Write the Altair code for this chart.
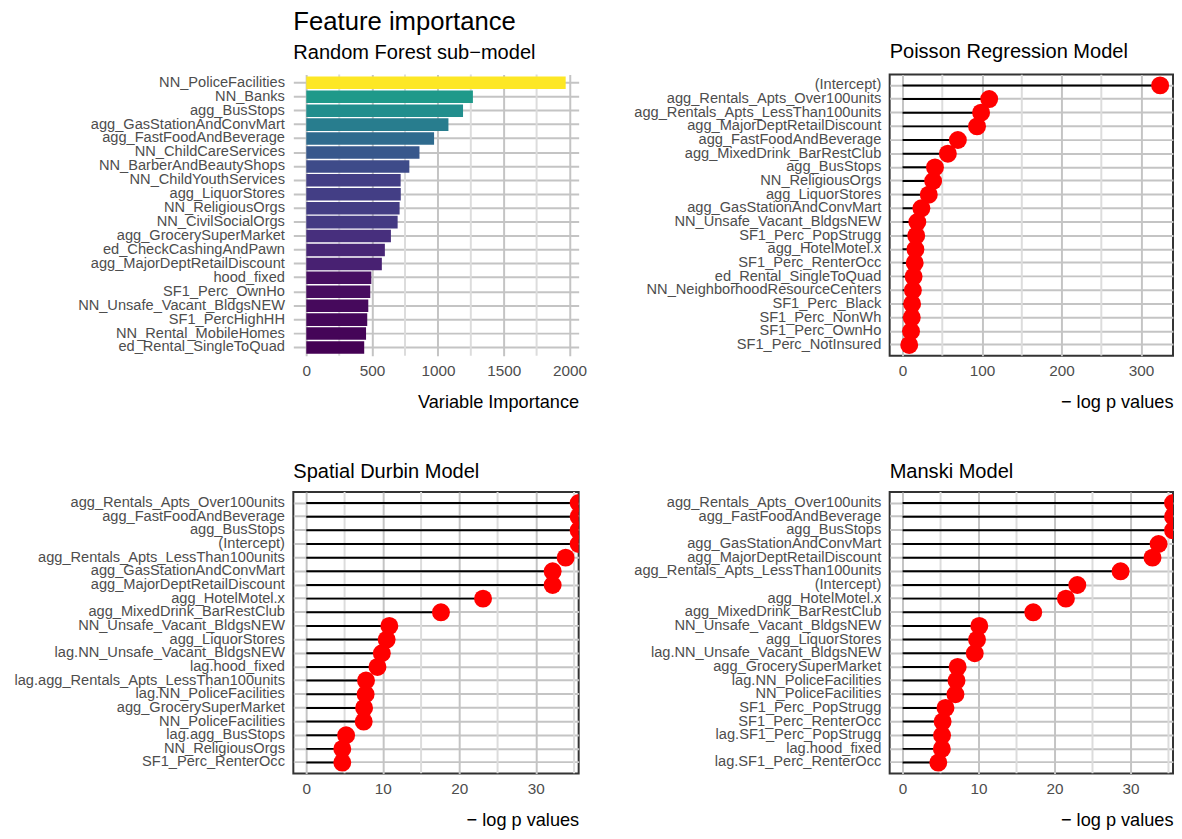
import altair as alt
import pandas as pd

FONT = "Liberation Sans"
LABEL_COLOR = "#4d4d4d"
MAJOR_GRID = "#c4c4c4"
MINOR_GRID = "#dcdcdc"

# ---------------- data ----------------
rf_features = [
    "NN_PoliceFacilities", "NN_Banks", "agg_BusStops", "agg_GasStationAndConvMart",
    "agg_FastFoodAndBeverage", "NN_ChildCareServices", "NN_BarberAndBeautyShops",
    "NN_ChildYouthServices", "agg_LiquorStores", "NN_ReligiousOrgs", "NN_CivilSocialOrgs",
    "agg_GrocerySuperMarket", "ed_CheckCashingAndPawn", "agg_MajorDeptRetailDiscount",
    "hood_fixed", "SF1_Perc_OwnHo", "NN_Unsafe_Vacant_BldgsNEW", "SF1_PercHighHH",
    "NN_Rental_MobileHomes", "ed_Rental_SingleToQuad",
]
rf_importance = [1971, 1266, 1191, 1080, 971, 860, 783, 717, 718, 709, 694,
                 643, 597, 574, 494, 486, 471, 463, 454, 440]

pois_features = [
    "(Intercept)", "agg_Rentals_Apts_Over100units", "agg_Rentals_Apts_LessThan100units",
    "agg_MajorDeptRetailDiscount", "agg_FastFoodAndBeverage", "agg_MixedDrink_BarRestClub",
    "agg_BusStops", "NN_ReligiousOrgs", "agg_LiquorStores", "agg_GasStationAndConvMart",
    "NN_Unsafe_Vacant_BldgsNEW", "SF1_Perc_PopStrugg", "agg_HotelMotel.x",
    "SF1_Perc_RenterOcc", "ed_Rental_SingleToQuad", "NN_NeighborhoodResourceCenters",
    "SF1_Perc_Black", "SF1_Perc_NonWh", "SF1_Perc_OwnHo", "SF1_Perc_NotInsured",
]
pois_values = [324, 109, 98.8, 93.7, 69.6, 57, 40.8, 38.5, 33, 23.7,
               18.6, 17.2, 16.2, 15.3, 13.9, 13, 12, 11.6, 10.7, 8.4]

sdm_features = [
    "agg_Rentals_Apts_Over100units", "agg_FastFoodAndBeverage", "agg_BusStops",
    "(Intercept)", "agg_Rentals_Apts_LessThan100units", "agg_GasStationAndConvMart",
    "agg_MajorDeptRetailDiscount", "agg_HotelMotel.x", "agg_MixedDrink_BarRestClub",
    "NN_Unsafe_Vacant_BldgsNEW", "agg_LiquorStores", "lag.NN_Unsafe_Vacant_BldgsNEW",
    "lag.hood_fixed", "lag.agg_Rentals_Apts_LessThan100units", "lag.NN_PoliceFacilities",
    "agg_GrocerySuperMarket", "NN_PoliceFacilities", "lag.agg_BusStops",
    "NN_ReligiousOrgs", "SF1_Perc_RenterOcc",
]
sdm_values = [38, 37.5, 37, 36.5, 33.9, 32.2, 32.2, 23.1, 17.6, 10.85,
              10.5, 9.87, 9.3, 7.8, 7.75, 7.55, 7.5, 5.2, 4.7, 4.7]

manski_features = [
    "agg_Rentals_Apts_Over100units", "agg_FastFoodAndBeverage", "agg_BusStops",
    "agg_GasStationAndConvMart", "agg_MajorDeptRetailDiscount",
    "agg_Rentals_Apts_LessThan100units", "(Intercept)", "agg_HotelMotel.x",
    "agg_MixedDrink_BarRestClub", "NN_Unsafe_Vacant_BldgsNEW", "agg_LiquorStores",
    "lag.NN_Unsafe_Vacant_BldgsNEW", "agg_GrocerySuperMarket", "lag.NN_PoliceFacilities",
    "NN_PoliceFacilities", "SF1_Perc_PopStrugg", "SF1_Perc_RenterOcc",
    "lag.SF1_Perc_PopStrugg", "lag.hood_fixed", "lag.SF1_Perc_RenterOcc",
]
manski_values = [38, 37.5, 37, 33.7, 32.9, 28.7, 23.0, 21.5, 17.2, 10.1,
                 9.8, 9.5, 7.25, 7.1, 6.96, 5.65, 5.27, 5.2, 5.17, 4.7]

rf_major = [0, 500, 1000, 1500, 2000]
rf_minor = [250, 750, 1250, 1750]
pois_major = [0, 100, 200, 300]
pois_minor = [50, 150, 250]
lag_major = [0, 10, 20, 30]
lag_minor = [5, 15, 25, 35]

LEFT_W = 289
RIGHT_W = 287
PANEL_H = 285

BORDER = alt.ViewBackground(stroke="#333333", strokeWidth=2)
NO_BORDER = alt.ViewBackground(strokeOpacity=0)


def x_axis(title, values):
    return alt.Axis(
        title=title, values=values, grid=True, gridColor=MAJOR_GRID, gridWidth=2,
        ticks=False, domain=False, labelPadding=8, labelFontSize=15.5,
        labelColor=LABEL_COLOR, labelFont=FONT, titleFont=FONT, titleFontSize=18.4,
        titleFontWeight="normal", titleColor="black", titleAnchor="end", titlePadding=14,
        format="d",
    )


def y_axis():
    return alt.Axis(
        title=None, grid=True, gridColor=MAJOR_GRID, gridWidth=2, ticks=False,
        domain=False, labelPadding=9, labelFontSize=14.8, labelColor=LABEL_COLOR,
        labelFont=FONT, labelLimit=500,
    )


def panel_title(text, offset):
    return alt.TitleParams(
        text=text, anchor="start", frame="group", font=FONT, fontSize=20.3,
        fontWeight="normal", color="black", offset=offset,
    )


def lollipop(features, values, title, domain, major, minor, width, offset, clamp=False):
    df = pd.DataFrame({"feature": features, "value": values, "zero": [0] * len(values)})
    xscale = alt.Scale(domain=domain, nice=False, zero=False, clamp=clamp)
    yscale = alt.Scale(padding=0.6)
    xax = x_axis("\u2212 log p values", major)
    grid = alt.Chart(pd.DataFrame({"v": minor})).mark_rule(
        color=MINOR_GRID, strokeWidth=2, clip=True
    ).encode(x=alt.X("v:Q", scale=xscale, axis=xax))
    seg = alt.Chart(df).mark_rule(color="black", strokeWidth=2, clip=True).encode(
        y=alt.Y("feature:N", sort=features, scale=yscale, axis=y_axis()),
        x=alt.X("zero:Q", scale=xscale, axis=xax),
        x2="value:Q",
    )
    pts = alt.Chart(df).mark_circle(color="red", opacity=1, size=330, clip=True).encode(
        y=alt.Y("feature:N", sort=features, scale=yscale, axis=y_axis()),
        x=alt.X("value:Q", scale=xscale, axis=xax),
    )
    return alt.layer(grid, seg, pts).properties(
        width=width, height=PANEL_H, title=panel_title(title, offset), view=BORDER,
    )


# ---------------- random forest panel ----------------
rf_df = pd.DataFrame({"feature": rf_features, "value": rf_importance})
rf_xscale = alt.Scale(domain=[-98.6, 2069.6], nice=False, zero=False)
rf_xax = x_axis("Variable Importance", rf_major)
rf_grid = alt.Chart(pd.DataFrame({"v": rf_minor})).mark_rule(
    color=MINOR_GRID, strokeWidth=2
).encode(x=alt.X("v:Q", scale=rf_xscale, axis=rf_xax))
rf_bars = alt.Chart(rf_df).mark_bar().encode(
    y=alt.Y("feature:N", sort=rf_features,
            scale=alt.Scale(paddingInner=0.1, paddingOuter=0.15), axis=y_axis()),
    x=alt.X("value:Q", scale=rf_xscale, axis=rf_xax),
    color=alt.Color("value:Q", scale=alt.Scale(scheme="viridis", zero=False, nice=False),
                    legend=None),
)
rf_panel = alt.layer(rf_grid, rf_bars).properties(
    width=LEFT_W, height=PANEL_H,
    view=NO_BORDER,
    title=alt.TitleParams(
        text="Feature importance", subtitle="Random Forest sub\u2212model",
        anchor="start", frame="group", font=FONT, fontSize=26, fontWeight="normal",
        color="black", subtitleFont=FONT, subtitleFontSize=20.3, subtitleColor="black",
        subtitlePadding=9, offset=10,
    ),
)

pois_panel = lollipop(pois_features, pois_values, "Poisson Regression Model",
                      [-16.2, 340.2], pois_major, pois_minor, RIGHT_W, 12)
sdm_panel = lollipop(sdm_features, sdm_values, "Spatial Durbin Model",
                     [-1.7, 35.6], lag_major, lag_minor, LEFT_W, 10, clamp=True)
manski_panel = lollipop(manski_features, manski_values, "Manski Model",
                        [-1.7, 35.6], lag_major, lag_minor, RIGHT_W, 10, clamp=True)

chart = alt.concat(
    rf_panel, pois_panel, sdm_panel, manski_panel, columns=2,
    spacing={"row": 49, "column": 46},
).properties(
    padding={"left": 5, "top": -5, "right": 0, "bottom": 0},
)

chart.save("out.html", embed_options={"renderer": "svg", "actions": False})
